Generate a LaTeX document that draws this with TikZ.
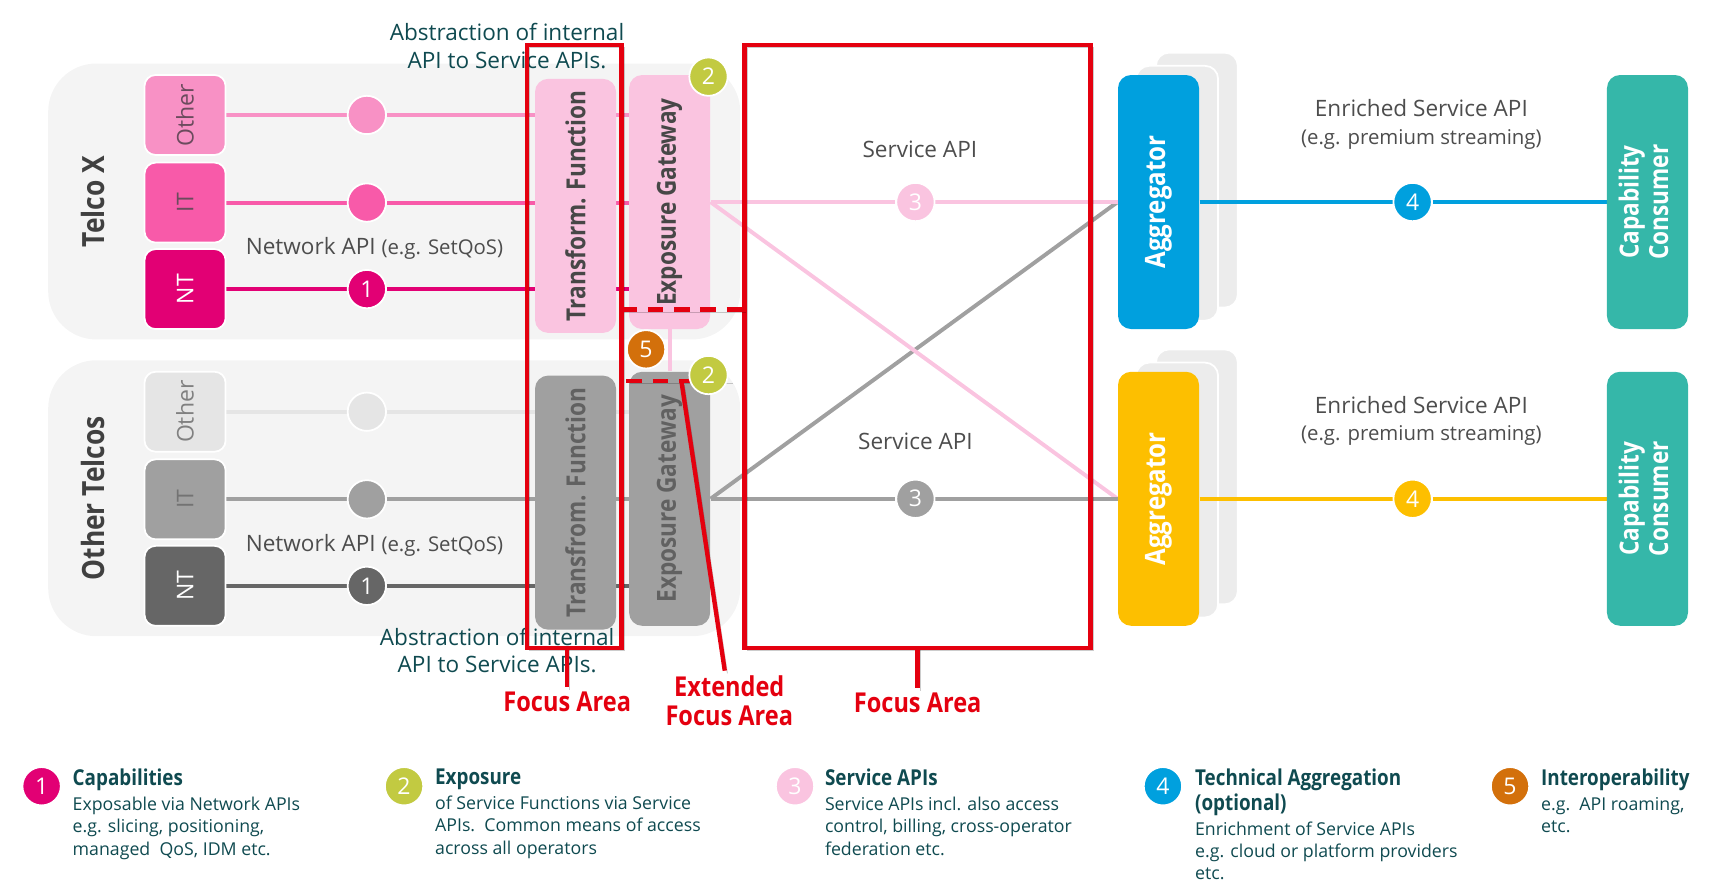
\documentclass[tikz,border=0pt]{standalone}
\usepackage{fontspec}
\setmainfont{Open Sans}
\newfontfamily\headfont{Open Sans}[FakeStretch=0.86]
\usepackage{tikz}
\usetikzlibrary{calc}
\usetikzlibrary{positioning}

\definecolor{tmag}{HTML}{E20074}
\definecolor{tpink}{HTML}{F85AA9}
\definecolor{tpinklt}{HTML}{F891C5}
\definecolor{tpinkpale}{HTML}{FAC4E0}
\definecolor{panelgray}{HTML}{F4F4F4}
\definecolor{grayOther}{HTML}{E5E5E5}
\definecolor{grayIT}{HTML}{A0A0A0}
\definecolor{grayNT}{HTML}{666666}
\definecolor{backgray}{HTML}{ECECEC}
\definecolor{tgreen}{HTML}{C2CA41}
\definecolor{torange}{HTML}{D3700B}
\definecolor{tblue}{HTML}{00A0DE}
\definecolor{tyellow}{HTML}{FDBF00}
\definecolor{tteal}{HTML}{35B7A9}
\definecolor{tealtxt}{HTML}{0F4A50}
\definecolor{graytxt}{HTML}{4D4D4D}
\definecolor{unittxt}{HTML}{6B4B5D}
\definecolor{focusred}{HTML}{E4000F}

\pgfdeclarelayer{panel}
\pgfdeclarelayer{wire}
\pgfsetlayers{panel,wire,main}

\tikzset{
	grouplabel/.style={inner sep=0pt, text=black!75, font=\headfont\bfseries\fontsize{14}{16}\selectfont},
	unitbox/.style={draw=white, line width=0.8pt, rounded corners=5pt, minimum width=37pt, minimum height=36.5pt, inner sep=0pt, font=\fontsize{10.5}{12}\selectfont},
	tallbox/.style={rounded corners=6pt, minimum width=37pt, minimum height=116pt, inner sep=0pt, font=\headfont\bfseries\fontsize{12}{14}\selectfont},
	dot/.style={circle, draw=white, line width=0.8pt, minimum size=17.5pt, inner sep=0pt, text=white, font=\fontsize{10.5}{12}\selectfont},
	wire/.style={line width=1.8pt},
	note/.style={inner sep=1pt, text=graytxt, font=\fontsize{10.3}{12.6}\selectfont},
	focus/.style={draw=focusred, line width=2pt, preaction={draw=black, opacity=0.2, transform canvas={shift={(1.2pt,-1.2pt)}}}},
	focuslabel/.style={inner sep=2pt, text=focusred, align=center, font=\headfont\bfseries\fontsize{12.5}{13.5}\selectfont},
	keytext/.style={anchor=north west, inner sep=0pt, align=left, text=tealtxt, font=\fontsize{8.1}{10.25}\selectfont},
}
\newcommand{\keytitle}{\headfont\bfseries\fontsize{10}{11.5}\selectfont}

\begin{document}
\begin{tikzpicture}[x=0.5pt, y=-0.5pt]
	\useasboundingbox (0,0) rectangle (1568,818);

	% operator groups
	\begin{pgfonlayer}{panel}
		\fill[panelgray, rounded corners=22pt] (44,58) rectangle (676,310);
		\fill[panelgray, rounded corners=22pt] (44,329) rectangle (676,581);
	\end{pgfonlayer}
	\node[grouplabel] (txName) at (85,184) {\rotatebox{90}{Telco X}};
	\node[grouplabel] (otName) at (85,455) {\rotatebox{90}{Other Telcos}};

	\node[unitbox, fill=tpinklt, text=unittxt] (txOther) at (169,105) {\rotatebox{90}{Other}};
	\node[unitbox, fill=tpink, text=unittxt] (txIT) at (169,185) {\rotatebox{90}{IT}};
	\node[unitbox, fill=tmag, text=white] (txNT) at (169,264) {\rotatebox{90}{NT}};
	\node[unitbox, fill=grayOther, text=black!50] (otOther) at (169,376) {\rotatebox{90}{Other}};
	\node[unitbox, fill=grayIT, text=black!55] (otIT) at (169,456) {\rotatebox{90}{IT}};
	\node[unitbox, fill=grayNT, text=white] (otNT) at (169,535) {\rotatebox{90}{NT}};

	\node[dot, fill=tpinklt] (txOtherDot) at (335,105) {};
	\node[dot, fill=tpink] (txITDot) at (335,185) {};
	\node[dot, fill=tmag] (txNTDot) at (335,264) {1};
	\node[dot, fill=grayOther] (otOtherDot) at (335,376) {};
	\node[dot, fill=grayIT] (otITDot) at (335,456) {};
	\node[dot, fill=grayNT] (otNTDot) at (335,535) {1};

	\node[note] (txNetApi) at (342,227) {Network API {\fontsize{9.3}{11}\selectfont(e.g. SetQoS)}};
	\node[note] (otNetApi) at (342,498) {Network API {\fontsize{9.3}{11}\selectfont(e.g. SetQoS)}};

	\node[tallbox, fill=tpinkpale, text=black!72] (txTrans) at (525.6,188) {\rotatebox{90}{Transform. Function}};
	\node[tallbox, fill=tpinkpale, text=black!72] (txExpo) at (611.5,184.5) {\rotatebox{90}{Exposure Gateway}};
	\node[tallbox, fill=grayIT, text=black!62] (otTrans) at (525.6,459) {\rotatebox{90}{Transfrom. Function}};
	\node[tallbox, fill=grayIT, text=black!62] (otExpo) at (611.5,455.5) {\rotatebox{90}{Exposure Gateway}};

	\node[note, text=tealtxt, align=center] (absTop) at (463,42) {Abstraction of internal\\API to Service APIs.};
	\node[note, text=tealtxt, align=center] (absBot) at (454,594) {Abstraction of internal\\API to Service APIs.};

	% service layer
	\node[note] (txSvcApi) at (840,136) {Service API};
	\node[note] (otSvcApi) at (836,403) {Service API};
	\node[dot, fill=tpinkpale] (txSvc) at (836,184.5) {3};
	\node[dot, fill=grayIT] (otSvc) at (836,455.5) {3};

	\node[tallbox, fill=tblue, text=white, font=\headfont\bfseries\fontsize{12.8}{14}\selectfont] (txAgg) at (1058,184.5) {\rotatebox{90}{Aggregator}};
	\node[tallbox, fill=tyellow, text=white, font=\headfont\bfseries\fontsize{12.8}{14}\selectfont] (otAgg) at (1058,455.5) {\rotatebox{90}{Aggregator}};
	\node[tallbox, fill=tteal, text=white, font=\headfont\bfseries\fontsize{12}{13.5}\selectfont] (txCons) at (1504.5,184.5) {\rotatebox{90}{\begin{tabular}{@{}c@{}}Capability\\Consumer\end{tabular}}};
	\node[tallbox, fill=tteal, text=white, font=\headfont\bfseries\fontsize{12}{13.5}\selectfont] (otCons) at (1504.5,455.5) {\rotatebox{90}{\begin{tabular}{@{}c@{}}Capability\\Consumer\end{tabular}}};
	\node[dot, fill=tblue] (txRich) at (1290,184.5) {4};
	\node[dot, fill=tyellow] (otRich) at (1290,455.5) {4};
	\node[note, align=center] (txRichApi) at (1298,113.5) {Enriched Service API\\{\fontsize{9.3}{11}\selectfont(e.g. premium streaming)}};
	\node[note, align=center] (otRichApi) at (1298,384.5) {Enriched Service API\\{\fontsize{9.3}{11}\selectfont(e.g. premium streaming)}};

	\begin{pgfonlayer}{wire}
		\draw[wire, tpinklt] (txOther) -- (txOtherDot) -- (txOther -| txExpo.west);
		\draw[wire, tpink] (txIT) -- (txITDot) -- (txIT -| txExpo.west);
		\draw[wire, tmag] (txNT) -- (txNTDot) -- (txNT -| txExpo.west);
		\draw[wire, grayOther] (otOther) -- (otOtherDot) -- (otOther -| otExpo.west);
		\draw[wire, grayIT] (otIT) -- (otITDot) -- (otIT -| otExpo.west);
		\draw[wire, grayNT] (otNT) -- (otNTDot) -- (otNT -| otExpo.west);
		\draw[wire, tpinkpale] (txExpo) -- (otExpo);

		\draw[wire, grayIT] (otExpo.east) -- (txAgg.west);
		\draw[wire, tpinkpale] (txExpo.east) -- (otAgg.west);
		\draw[wire, tpinkpale] (txExpo.east) -- (txSvc) -- (txAgg.west);
		\draw[wire, grayIT] (otExpo.east) -- (otSvc) -- (otAgg.west);

		\foreach \agg in {txAgg, otAgg} {
			\foreach \dx/\dy in {35/-20, 17/-8}
				\draw[white, fill=backgray, line width=0.8pt, rounded corners=6pt] ([shift={(\dx,\dy)}]\agg.south west) rectangle ([shift={(\dx,\dy)}]\agg.north east);
		}
		\draw[wire, tblue] (txAgg) -- (txRich) -- (txCons);
		\draw[wire, tyellow] (otAgg) -- (otRich) -- (otCons);
	\end{pgfonlayer}

	% focus areas
	\draw[focus] (481,41) rectangle (567.7,591.5);
	\draw[focus] (680,41) rectangle (996,591.5);
	\draw[focus, dash pattern=on 7pt off 5pt] (567.7,282.5) -- (679,282.5);
	\draw[focus, dash pattern=on 7pt off 5pt] (572,348) -- (667,348);
	\node[focuslabel] (areaA) at (518,641) {Focus Area};
	\node[focuslabel] (areaExt) at (666,640) {Extended\\Focus Area};
	\node[focuslabel] (areaB) at (838,642) {Focus Area};
	\draw[focus] (518,591.5) -- (areaA);
	\draw[focus] (622.5,349.5) -- (areaExt);
	\draw[focus] (838,591.5) -- (areaB);

	\node[dot, fill=tgreen] (txExpoKey) at (647,70) {2};
	\node[dot, fill=tgreen] (otExpoKey) at (647,342.5) {2};
	\node[dot, fill=torange] (roamKey) at (590,319) {5};

	% legend
	\node[dot, fill=tmag] (keyCap) at (38,718) {1};
	\node[keytext] (keyCapText) at (66,702) {{\keytitle Capabilities}\\[1pt]Exposable via Network APIs\\e.g. slicing, positioning,\\managed\ \ QoS, IDM etc.};
	\node[dot, fill=tgreen] (keyExp) at (369,718) {2};
	\node[keytext] (keyExpText) at (397,702) {{\keytitle Exposure}\\[1pt]of Service Functions via Service\\APIs.\ \ Common means of access\\across all operators};
	\node[dot, fill=tpinkpale] (keySvc) at (726,718) {3};
	\node[keytext] (keySvcText) at (753,702) {{\keytitle Service APIs}\\[1pt]Service APIs incl. also access\\control, billing, cross-operator\\federation etc.};
	\node[dot, fill=tblue] (keyAgg) at (1062,718) {4};
	\node[keytext] (keyAggText) at (1091,702) {{\keytitle Technical Aggregation}\\[1pt]{\keytitle (optional)}\\[1pt]Enrichment of Service APIs\\e.g. cloud or platform providers\\etc.};
	\node[dot, fill=torange] (keyRoam) at (1379,718) {5};
	\node[keytext] (keyRoamText) at (1407,702) {{\keytitle Interoperability}\\[1pt]e.g.\ \ API roaming,\\etc.};
\end{tikzpicture}
\end{document}
